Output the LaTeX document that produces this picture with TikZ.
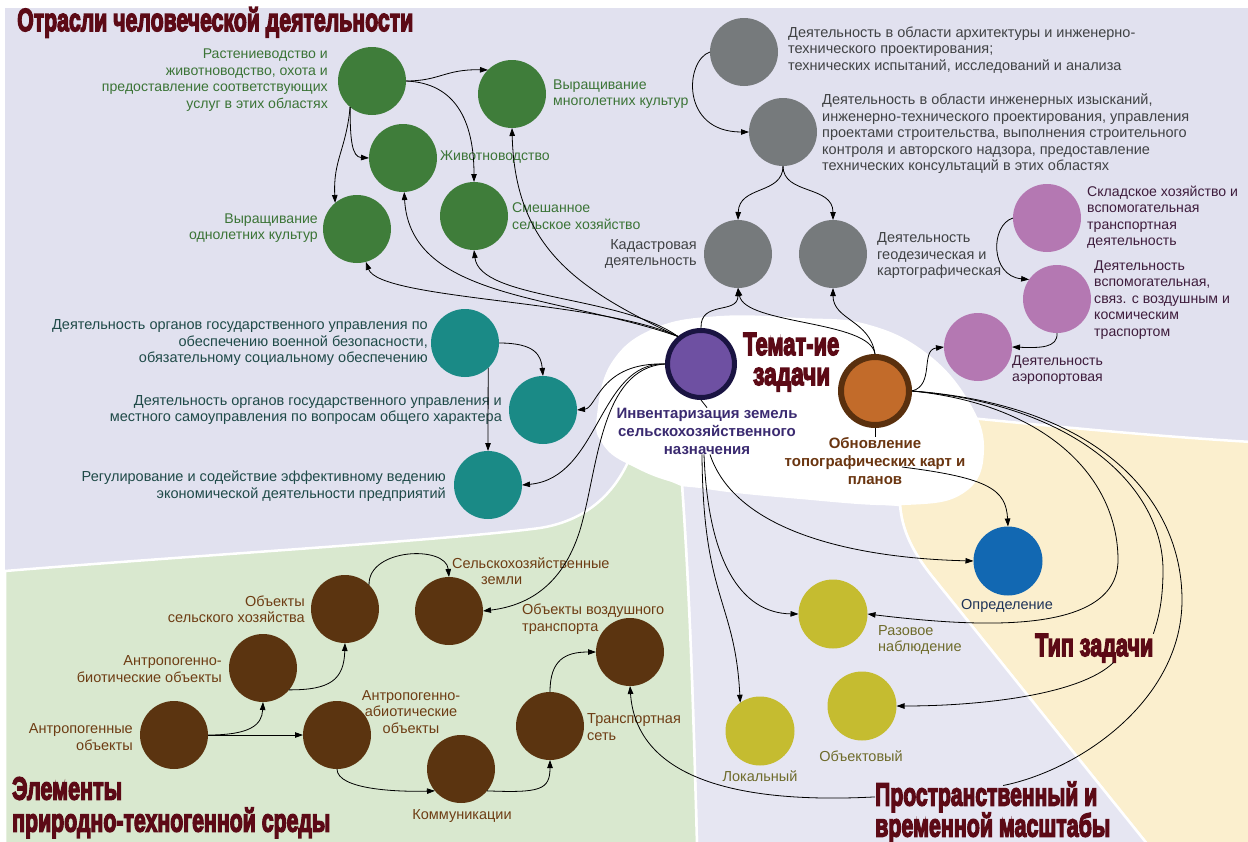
\documentclass[tikz,border=0pt]{standalone}
\usepackage{fontspec}
\usepackage{graphicx}
\setmainfont{Liberation Sans}
\newfontfamily\headfont{Liberation Sans}
\usetikzlibrary{arrows.meta,calc}
\definecolor{lav}{HTML}{E1E1EF}
\definecolor{lavlow}{HTML}{E6E6F2}
\definecolor{grn}{HTML}{D9E8CF}
\definecolor{peach}{HTML}{FBEFCE}
\definecolor{hdcol}{HTML}{5C0A16}
\definecolor{gnode}{HTML}{3F7D3A}
\definecolor{gtxt}{HTML}{3B7436}
\definecolor{grnode}{HTML}{767A7C}
\definecolor{grtxt}{HTML}{404244}
\definecolor{pnode}{HTML}{B478B2}
\definecolor{ptxt}{HTML}{3E1C3C}
\definecolor{tnode}{HTML}{1A8A86}
\definecolor{ttxt}{HTML}{1F4A48}
\definecolor{bnode}{HTML}{5B3410}
\definecolor{btxt}{HTML}{6E3D14}
\definecolor{ynode}{HTML}{C5BC30}
\definecolor{ytxt}{HTML}{6E6B2B}
\definecolor{blnode}{HTML}{1268B2}
\definecolor{bltxt}{HTML}{1E3358}
\definecolor{cafill}{HTML}{6E50A2}
\definecolor{cabord}{HTML}{1A1442}
\definecolor{catxt}{HTML}{3A2A70}
\definecolor{cbfill}{HTML}{C26B2A}
\definecolor{cbbord}{HTML}{5A300E}
\definecolor{cbtxt}{HTML}{6A3510}
\newcommand{\hdbox}[2]{\resizebox{#1}{\height}{\special{pdf:literal direct 2 Tr 1.6 w}#2\special{pdf:literal direct 0 Tr}}}
\tikzset{
  ball/.style={circle, minimum size=68pt, inner sep=0pt, outer sep=0pt},
  lbl/.style={inner sep=0pt, font=\fontsize{14.5}{16.5}\selectfont},
  slbl/.style={inner sep=0pt, font=\fontsize{14.1}{16.5}\selectfont},
  clbl/.style={inner sep=0pt, font=\bfseries\fontsize{15}{18}\selectfont, align=center},
  arr/.style={draw=black, line width=0.8pt, -{Triangle[length=8pt,width=5.5pt]}},
  ln/.style={draw=black, line width=0.8pt},
  hd/.style={inner sep=0pt, text=hdcol, font=\headfont\bfseries\fontsize{32}{32}\selectfont, anchor=base west},
  region/.style={draw=white, line width=2.5pt}
}
\begin{document}
\begin{tikzpicture}[x=1pt,y=-1pt]
\useasboundingbox (0,0) rectangle (1248,841);
% background
\fill[white] (0,0) rectangle (1248,841);
\fill[lav] (5,8) rectangle (1248,841);
% regions
\path[region, fill=peach] (930,414) .. controls (1050,426) and (1150,436) .. (1252,442) -- (1252,845) -- (1148,845) -- (935,580) .. controls (912,552) and (902,530) .. (900,505) -- cycle;
\path[region, fill=lavlow] (682,485) -- (900,505) .. controls (902,530) and (912,552) .. (935,580) -- (1148,845) -- (697,845) .. controls (693,700) and (690,600) .. (682,485) -- cycle;
\path[region, fill=grn] (5,571) .. controls (200,555) and (450,540) .. (540,528) .. controls (590,520) and (615,490) .. (628,462) -- (682,485) .. controls (690,600) and (693,700) .. (697,845) -- (5,845) -- cycle;
\fill[white] plot[smooth cycle, tension=0.7] coordinates {(597,415) (612,362) (655,328) (720,316) (800,318) (866,324) (925,352) (968,400) (984,450) (965,492) (905,505) (800,499) (690,486) (630,465) (602,443)};
% headings
\node[hd] (h1) at (17,31) {\hdbox{396pt}{Отрасли человеческой деятельности}};
\node[hd] (h2) at (743,355) {\hdbox{96pt}{Темат-ие}};
\node[hd] (h3) at (753,385) {\hdbox{77pt}{задачи}};
\node[hd] (tz) at (1035,656) {\hdbox{118pt}{Тип задачи}};
\node[hd] (sp1) at (875,805.5) {\hdbox{222pt}{Пространственный и}};
\node[hd] (sp2) at (875,836.5) {\hdbox{235pt}{временной масштабы}};
\node[hd, anchor=north west, align=left] (el) at (12,777) {\hdbox{110pt}{Элементы}\\\hdbox{318pt}{природно-техногенной среды}};
% nodes
\node[ball, fill=gnode] (g1) at (372,81) {};
\node[ball, fill=gnode] (g2) at (512,94) {};
\node[ball, fill=gnode] (g3) at (403,158) {};
\node[ball, fill=gnode] (g4) at (357,229) {};
\node[ball, fill=gnode] (g5) at (474,216) {};
\node[ball, fill=grnode] (gr1) at (744,52) {};
\node[ball, fill=grnode] (gr2) at (783,132) {};
\node[ball, fill=grnode] (gr3) at (738,254) {};
\node[ball, fill=grnode] (gr4) at (833,254) {};
\node[ball, fill=pnode] (p1) at (1047,218) {};
\node[ball, fill=pnode] (p2) at (1057,299) {};
\node[ball, fill=pnode] (p3) at (978,347) {};
\node[ball, fill=tnode] (t1) at (465,343) {};
\node[ball, fill=tnode] (t2) at (543,410) {};
\node[ball, fill=tnode] (t3) at (488,485) {};
\node[circle, minimum size=67pt, inner sep=0pt, outer sep=2.5pt, fill=cafill, draw=cabord, line width=5pt] (c1) at (701,364) {};
\node[circle, minimum size=68pt, inner sep=0pt, outer sep=3pt, fill=cbfill, draw=cbbord, line width=6pt] (c2) at (875,391) {};
\node[ball, fill=bnode] (b1) at (345,609) {};
\node[ball, fill=bnode] (b2) at (449,611) {};
\node[ball, fill=bnode] (b3) at (263,668) {};
\node[ball, fill=bnode] (b4) at (174,735) {};
\node[ball, fill=bnode] (b5) at (337,735) {};
\node[ball, fill=bnode] (b6) at (461,769) {};
\node[ball, fill=bnode] (b7) at (550,726) {};
\node[ball, fill=bnode] (b8) at (630,652) {};
\node[ball, fill=ynode, minimum size=69pt] (y1) at (833,614) {};
\node[ball, fill=ynode, minimum size=69pt] (y2) at (862,706) {};
\node[ball, fill=ynode, minimum size=69pt] (y3) at (760,731) {};
\node[ball, fill=blnode, minimum size=69pt] (bl) at (1008,561) {};
% labels
\node[slbl, text=gtxt, align=right, anchor=east] (lg1) at (328,80) {Растениеводство и\\животноводство, охота и\\предоставление соответствующих\\услуг в этих областях};
\node[slbl, text=gtxt, align=left, anchor=west] (lg2) at (553,94) {Выращивание\\многолетних культур};
\node[slbl, text=gtxt, anchor=west] (lg3) at (440,157) {Животноводство};
\node[slbl, text=gtxt, align=right, anchor=east] (lg4) at (318,228) {Выращивание\\однолетних культур};
\node[slbl, text=gtxt, align=left, anchor=west] (lg5) at (512,216) {Смешанное\\сельское хозяйство};
\node[lbl, text=grtxt, align=left, anchor=west] (lgr1) at (788,50) {Деятельность в области архитектуры и инженерно-\\технического проектирования;\\технических испытаний, исследований и анализа};
\node[lbl, text=grtxt, align=left, anchor=west] (lgr2) at (822,134) {Деятельность в области инженерных изысканий,\\инженерно-технического проектирования, управления\\проектами строительства, выполнения строительного\\контроля и авторского надзора, предоставление\\технических консультаций в этих областях};
\node[lbl, text=grtxt, align=right, anchor=east] (lgr3) at (697,254) {Кадастровая\\деятельность};
\node[lbl, text=grtxt, align=left, anchor=west] (lgr4) at (877,256) {Деятельность\\геодезическая и\\картографическая};
\node[slbl, text=ptxt, align=left, anchor=west] (lp1) at (1087,217) {Складское хозяйство и\\вспомогательная\\транспортная\\деятельность};
\node[slbl, text=ptxt, align=left, anchor=west] (lp2) at (1094,300) {Деятельность\\вспомогательная,\\связ. с воздушным и\\космическим\\траспортом};
\node[slbl, text=ptxt, align=left, anchor=west] (lp3) at (1012,370) {Деятельность\\аэропортовая};
\node[lbl, text=ttxt, align=right, anchor=east] (lt1) at (428,343) {Деятельность органов государственного управления по\\обеспечению военной безопасности,\\обязательному социальному обеспечению};
\node[lbl, text=ttxt, align=right, anchor=east] (lt2) at (502,410) {Деятельность органов государственного управления и\\местного самоуправления по вопросам общего характера};
\node[lbl, text=ttxt, align=right, anchor=east] (lt3) at (446,486) {Регулирование и содействие эффективному ведению\\экономической деятельности предприятий};
\node[clbl, text=catxt] (lc1) at (707,431) {Инвентаризация земель\\сельскохозяйственного\\назначения};
\node[clbl, text=cbtxt] (lc2) at (875,461) {Обновление\\топографических карт и\\планов};
\node[lbl, text=btxt, align=right, anchor=east] (lb1) at (305,609) {Объекты\\сельского хозяйства};
\node[lbl, text=btxt, align=left, anchor=west] (lb2) at (452,571) {Сельскохозяйственные\\\hspace*{29pt}земли};
\node[lbl, text=btxt, align=right, anchor=east] (lb3) at (222,669) {Антропогенно-\\биотические объекты};
\node[lbl, text=btxt, align=right, anchor=east] (lb4) at (133,737) {Антропогенные\\объекты};
\node[lbl, text=btxt, align=center] (lb5) at (411,712) {Антропогенно-\\абиотические\\объекты};
\node[lbl, text=btxt] (lb6) at (462,816) {Коммуникации};
\node[lbl, text=btxt, align=left, anchor=west] (lb7) at (587,727) {Транспортная\\сеть};
\node[lbl, text=btxt, align=left, anchor=west] (lb8) at (522,619) {Объекты воздушного\\транспорта};
\node[lbl, text=ytxt, align=left, anchor=west] (ly1) at (878,640) {Разовое\\наблюдение};
\node[lbl, text=ytxt] (ly2) at (861,756) {Объектовый};
\node[lbl, text=ytxt] (ly3) at (760,776) {Локальный};
\node[lbl, text=bltxt] (lbl) at (1007,606) {Определение};
% connectors: green
\draw[arr] (g1.east) .. controls (440,81) and (445,69) .. (g2.135);
\draw[arr] (g1.east) .. controls (455,83) and (474,120) .. (g5.north);
\draw[arr] (g1.230) .. controls (350,140) and (352,157) .. (g3.west);
\draw[arr] (g1.230) .. controls (346,150) and (333,160) .. (g4.130);
\draw[arr] (c1.130) .. controls (600,300) and (380,300) .. (g4.285);
\draw[arr] (c1.130) .. controls (560,295) and (410,300) .. (g3.272);
\draw[arr] (c1.130) .. controls (620,295) and (480,300) .. (g5.south);
\draw[arr] (c1.130) .. controls (580,290) and (515,250) .. (g2.south);
% gray
\draw[arr] (c1.north) .. controls (700,300) and (738,315) .. (gr3.south);
\draw[arr] (c2.north) .. controls (870,320) and (745,325) .. (gr3.south);
\draw[arr] (c2.north) .. controls (870,320) and (833,320) .. (gr4.south);
\draw[arr] (gr1.west) .. controls (685,60) and (680,132) .. (gr2.west);
\draw[arr] (gr2.south) .. controls (783,195) and (739,185) .. (gr3.north);
\draw[arr] (gr2.south) .. controls (783,195) and (833,185) .. (gr4.north);
% purple
\draw[arr] (p1.west) .. controls (990,225) and (990,276) .. (p2.145);
\draw[arr] (p2.south) .. controls (1058,348) and (1040,348) .. (p3.east);
\draw[arr] (c2.east) .. controls (935,385) and (920,350) .. (p3.west);
% teal
\draw[arr] (t1.east) .. controls (535,343) and (541,355) .. (t2.north);
\draw[arr] (t1.313) -- (t3.north);
\draw[arr] (c1.west) .. controls (600,362) and (597,408) .. (t2.east);
\draw[arr] (c1.west) .. controls (598,362) and (600,478) .. (t3.east);
\draw[arr] (c1.west) .. controls (600,368) and (598,470) .. (580,530) .. controls (562,588) and (525,606) .. (b2.east);
% central ticks
\draw[ln] (c1.south) -- (lc1.north);
\draw[ln] (c2.south) -- (lc2.north);
% from central labels
\draw[arr] ([xshift=-5pt]lc1.south) .. controls (703,600) and (735,600) .. (y3.125);
\draw[arr] ([xshift=-3pt]lc1.south) .. controls (708,560) and (740,613) .. (y1.west);
\draw[arr] ([xshift=3pt]lc1.south) .. controls (735,530) and (850,558) .. (bl.west);
\draw[arr] ($(lc2.center)+(27,6)$) .. controls (990,478) and (1006,490) .. (bl.north);
% from c2 to the right
\draw[arr] (c2.east) .. controls (1050,405) and (1118,480) .. (1118,560) .. controls (1118,640) and (960,625) .. (y1.east);
\draw[ln] (c2.east) .. controls (1080,405) and (1163,490) .. (1163,570) .. controls (1163,605) and (1157,622) .. (tz.north east);
\draw[arr] ([xshift=-40pt]tz.south east) .. controls (1080,695) and (980,706) .. (y2.east);
\draw[ln] (c2.east) .. controls (1100,405) and (1182,500) .. (1182,600) .. controls (1182,700) and (1080,770) .. ([xshift=17pt,yshift=-4pt]sp1.north);
\draw[arr] (sp1.west) .. controls (700,806) and (635,760) .. (b8.south);
% brown
\draw[arr] (b4.east) .. controls (250,735) and (262,725) .. (b3.south);
\draw[arr] (b4.east) -- (b5.west);
\draw[arr] (b3.320) .. controls (330,690) and (344,680) .. (b1.south);
\draw[arr] (b1.45) .. controls (368,548) and (446,545) .. (b2.north);
\draw[arr] (b5.south) .. controls (337,790) and (400,792) .. (b6.220);
\draw[arr] (b6.320) .. controls (540,793) and (550,790) .. (b7.south);
\draw[arr] (b7.north) .. controls (550,660) and (565,652) .. (b8.west);
\end{tikzpicture}
\end{document}
